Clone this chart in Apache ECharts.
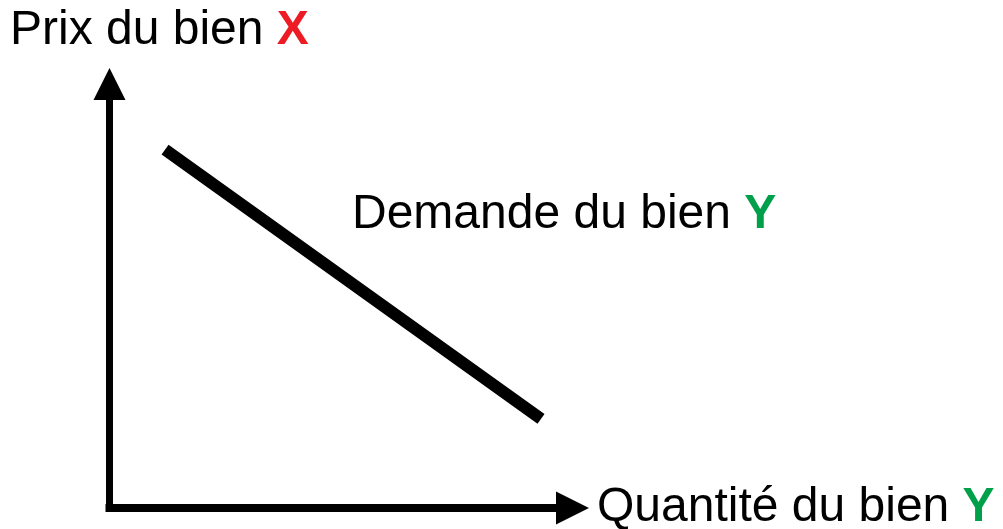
<!DOCTYPE html>
<html>
<head>
<meta charset="utf-8">
<script src="https://cdn.jsdelivr.net/npm/echarts@6/dist/echarts.min.js"></script>
<style>
  html, body { margin: 0; padding: 0; background: #fff; }
  #chart { width: 1003px; height: 529px; }
</style>
</head>
<body>
<div id="chart"></div>
<script>
// demand curve: two end points (quantity, price) in axis units 0..10
const demandQty = [1.2, 9.32]
const demandPrice = [8.45, 2.1]

const yLabel = ['Prix du bien ', 'X']
const xLabel = ['Quantité du bien ', 'Y']
const curveLabel = ['Demande du bien ', 'Y']

const font = 'Liberation Sans, Arial, sans-serif'
const red = '#ed1c24'
const green = '#00a04b'

function richFor(accent) {
  return {
    a: { fontSize: 48, fontFamily: font, color: '#000', fontWeight: 'normal', lineHeight: 48 },
    b: { fontSize: 48, fontFamily: font, color: accent, fontWeight: 'bold', lineHeight: 48 },
  }
}

function label(parts, left, top, accent) {
  return {
    text: '{a|' + parts[0] + '}{b|' + parts[1] + '}',
    left: left,
    top: top,
    padding: 0,
    textStyle: { fontWeight: 'normal', rich: richFor(accent) },
  }
}

const chart = echarts.init(document.getElementById('chart'))

chart.setOption({
  backgroundColor: '#fff',
  animation: false,
  title: [
    label(yLabel, 10, 7, red),
    label(curveLabel, 352, 191, green),
    label(xLabel, 597, 484, green),
  ],
  grid: { left: 109.5, right: 430.5, top: 84, bottom: 21 },
  xAxis: {
    type: 'value',
    min: 0,
    max: 10,
    axisLine: {
      show: true,
      symbol: ['none', 'triangle'],
      symbolSize: [33, 33],
      lineStyle: { color: '#000', width: 8, cap: 'square' },
    },
    axisTick: { show: false },
    axisLabel: { show: false },
    splitLine: { show: false },
  },
  yAxis: {
    type: 'value',
    min: 0,
    max: 10,
    axisLine: {
      show: true,
      symbol: ['none', 'triangle'],
      symbolSize: [32, 32],
      lineStyle: { color: '#000', width: 7, cap: 'square' },
    },
    axisTick: { show: false },
    axisLabel: { show: false },
    splitLine: { show: false },
  },
  series: [
    {
      type: 'line',
      data: demandQty.map((q, i) => [q, demandPrice[i]]),
      symbol: 'none',
      lineStyle: { color: '#000', width: 12, cap: 'butt' },
    },
  ],
})
</script>
</body>
</html>
